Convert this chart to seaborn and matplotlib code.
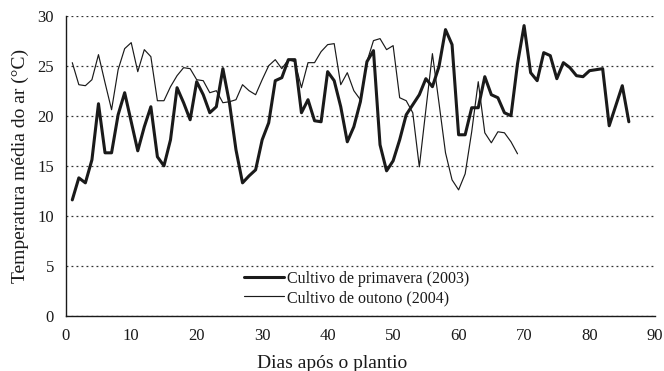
import numpy as np
import pandas as pd
import matplotlib
matplotlib.use("Agg")
import matplotlib.pyplot as plt
import seaborn as sns

spring = [11.6, 13.8, 13.3, 15.6, 21.2, 16.3, 16.3, 20.1, 22.3, 19.4,
          16.5, 18.9, 20.9, 15.9, 15.0, 17.6, 22.8, 21.3, 19.6, 23.4,
          22.1, 20.3, 20.9, 24.7, 21.3, 16.6, 13.3, 14.0, 14.6, 17.6,
          19.3, 23.5, 23.8, 25.6, 25.6, 20.3, 21.6, 19.5, 19.4, 24.4,
          23.5, 20.9, 17.4, 18.9, 21.4, 25.4, 26.5, 17.1, 14.5, 15.5,
          17.6, 20.1, 21.1, 22.1, 23.7, 22.9, 24.9, 28.6, 27.1, 18.1,
          18.1, 20.8, 20.8, 23.9, 22.1, 21.8, 20.3, 20.0, 25.2, 29.0,
          24.3, 23.5, 26.3, 26.0, 23.7, 25.3, 24.8, 24.0, 23.9, 24.5,
          24.6, 24.7, 19.0, 21.0, 23.0, 19.4]
autumn = [25.3, 23.1, 23.0, 23.6, 26.1, 23.3, 20.6, 24.6, 26.7, 27.3,
          24.4, 26.6, 25.9, 21.5, 21.5, 22.9, 24.0, 24.8, 24.7, 23.6,
          23.5, 22.3, 22.5, 21.3, 21.4, 21.6, 23.1, 22.5, 22.1, 23.6,
          25.0, 25.6, 24.7, 25.6, 25.4, 22.8, 25.3, 25.3, 26.4, 27.1,
          27.2, 23.1, 24.3, 22.5, 21.6, 25.4, 27.5, 27.7, 26.6, 27.0,
          21.8, 21.5, 20.3, 14.9, 20.6, 26.2, 21.3, 16.3, 13.6, 12.6,
          14.2, 18.4, 23.4, 18.3, 17.3, 18.4, 18.3, 17.4, 16.2]
spring_days = list(range(1, len(spring) + 1))
autumn_days = list(range(1, len(autumn) + 1))
label_spring = "Cultivo de primavera (2003)"
label_autumn = "Cultivo de outono (2004)"
xticks = list(range(0, 91, 10))
yticks = list(range(0, 31, 5))

sns.set_style("white")
plt.rcParams['font.family'] = ['Liberation Serif', 'DejaVu Serif']

fig = plt.figure(figsize=(6.64, 3.71), dpi=100)
ax = fig.add_axes([0.099, 0.148, 0.8875, 0.81])

df_s = pd.DataFrame({"dia": spring_days, "temp": spring})
df_a = pd.DataFrame({"dia": autumn_days, "temp": autumn})
sns.lineplot(data=df_s, x="dia", y="temp", ax=ax, color="#1a1a1a", linewidth=2.2,
             label=label_spring)
sns.lineplot(data=df_a, x="dia", y="temp", ax=ax, color="#1a1a1a", linewidth=0.85,
             label=label_autumn)

ax.set_xlim(0, 90)
ax.set_ylim(0, 30)
ax.set_xticks(xticks)
ax.set_yticks(yticks)
ax.yaxis.grid(True, linestyle=(0, (1.5, 2.5)), color="#333333", linewidth=0.9)
ax.xaxis.grid(False)
for s in ["top", "right"]:
    ax.spines[s].set_visible(False)
for s in ["left", "bottom"]:
    ax.spines[s].set_color("#1a1a1a")
    ax.spines[s].set_linewidth(1.0)
ax.tick_params(axis="both", direction="out", length=3.5, width=1.0, color="#1a1a1a",
               labelsize=12, labelcolor="#1a1a1a", pad=5)
ax.set_xlabel("Dias após o plantio", fontsize=14, color="#1a1a1a")
ax.xaxis.set_label_coords(0.452, -0.13)
ax.set_ylabel("Temperatura média do ar (°C)", fontsize=14, color="#1a1a1a", labelpad=6)

leg = ax.legend(loc="center left", bbox_to_anchor=(0.284, 0.092), frameon=False,
                fontsize=11.5, handlelength=2.5, handletextpad=0.2, labelspacing=0.2,
                borderpad=0.2)
for t in leg.get_texts():
    t.set_color("#1a1a1a")

fig.savefig("out.png", dpi=100)
